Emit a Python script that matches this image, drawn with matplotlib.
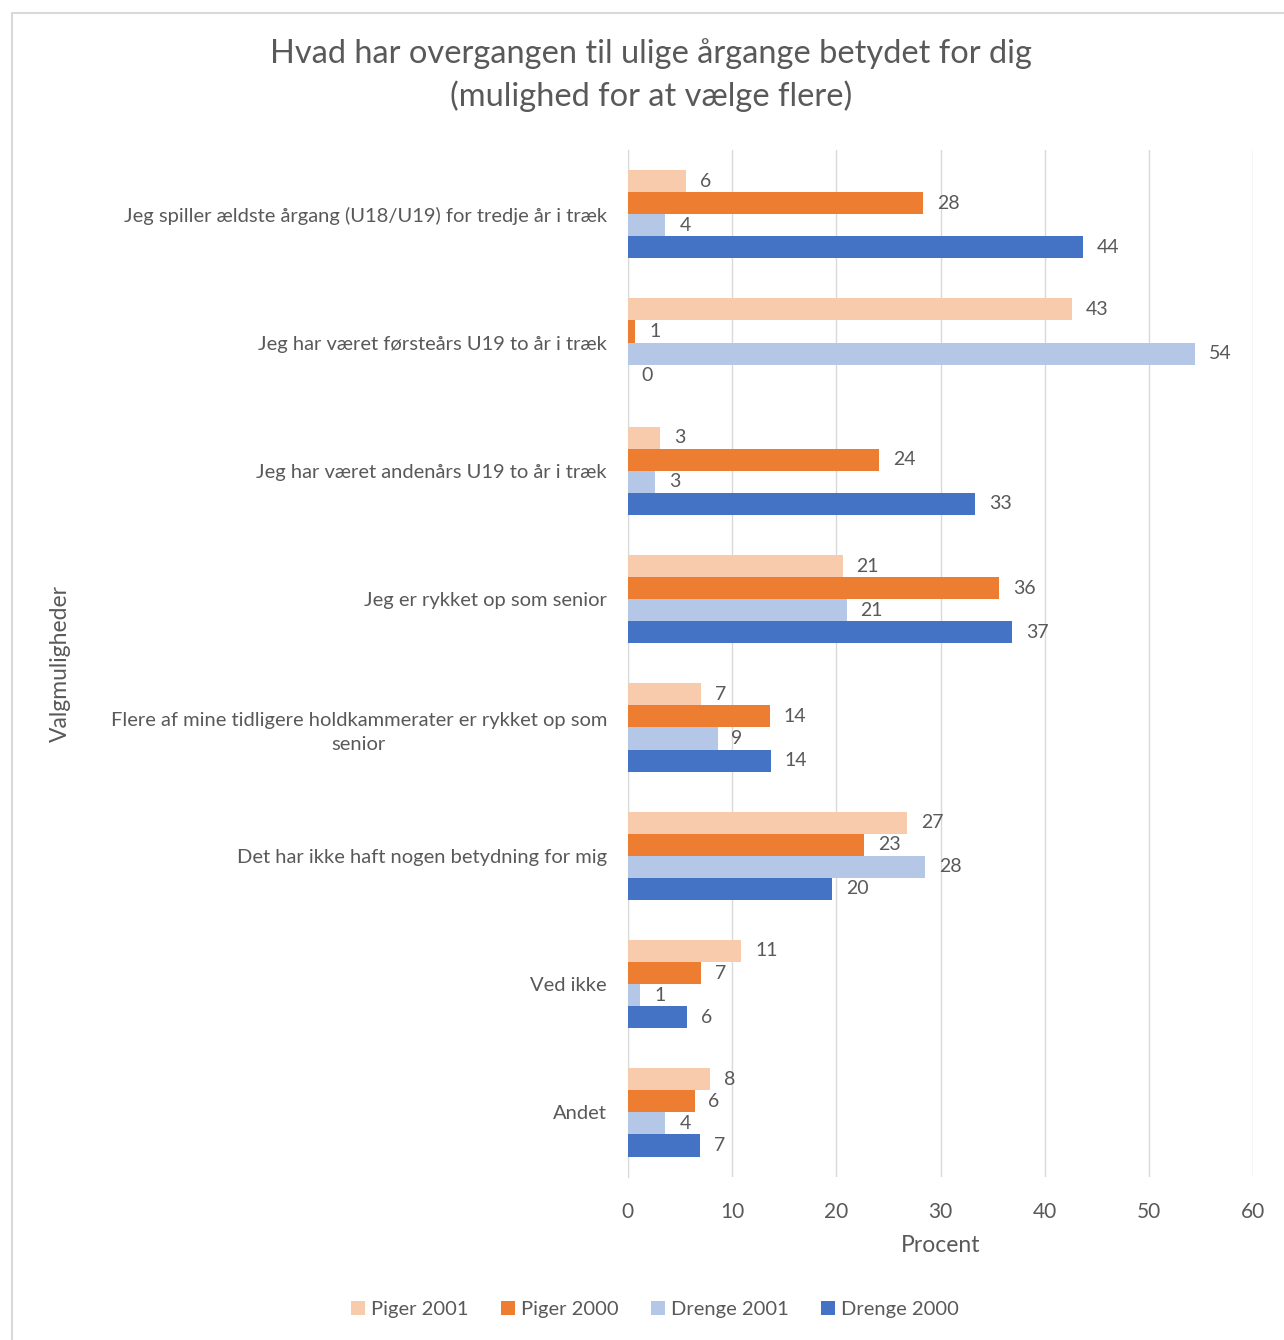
import numpy as np
import matplotlib.pyplot as plt
from matplotlib.patches import Rectangle

plt.rcParams['font.family'] = ['Lato', 'DejaVu Sans']

categories = [
    "Jeg spiller ældste årgang (U18/U19) for tredje år i træk",
    "Jeg har været førsteårs U19 to år i træk",
    "Jeg har været andenårs U19 to år i træk",
    "Jeg er rykket op som senior",
    "Flere af mine tidligere holdkammerater er rykket op som\nsenior",
    "Det har ikke haft nogen betydning for mig",
    "Ved ikke",
    "Andet",
]
series_names = ["Piger 2001", "Piger 2000", "Drenge 2001", "Drenge 2000"]
piger_2001 = [5.6, 42.6, 3.1, 20.6, 7.0, 26.8, 10.9, 7.9]
piger_2000 = [28.3, 0.7, 24.1, 35.6, 13.6, 22.7, 7.0, 6.4]
drenge_2001 = [3.6, 54.4, 2.6, 21.0, 8.6, 28.5, 1.2, 3.6]
drenge_2000 = [43.7, 0.0, 33.3, 36.9, 13.7, 19.6, 5.7, 6.9]
colors = ["#F8CBAD", "#ED7D31", "#B4C7E7", "#4472C4"]

txt = "#595959"
fig = plt.figure(figsize=(12.84, 13.4), dpi=100)
ax = fig.add_axes([0.489, 0.122, 0.487, 0.766])

y = np.arange(len(categories))
h = 0.172
for i, (vals, name, c) in enumerate(zip([piger_2001, piger_2000, drenge_2001, drenge_2000], series_names, colors)):
    bars = ax.barh(y + (i - 1.5) * h, vals, height=h, color=c, label=name, zorder=3)
    ax.bar_label(bars, fmt="%.0f", padding=10, color=txt, fontsize=14)

ax.set_ylim(len(categories) - 0.5, -0.5)
ax.set_xlim(0, 60)
ax.set_xticks(range(0, 61, 10))
ax.set_yticks(y)
ax.set_yticklabels(categories, fontsize=14.5, color=txt)
for lbl in ax.get_yticklabels():
    lbl.set_multialignment('center')
    lbl.set_linespacing(1.5)
ax.tick_params(axis='x', length=0, labelsize=15, labelcolor=txt, pad=18)
ax.tick_params(axis='y', length=0, pad=15)
ax.grid(axis='x', color="#D9D9D9", linewidth=1, zorder=0)
for s in ['top', 'right', 'bottom']:
    ax.spines[s].set_visible(False)
ax.spines['left'].set_color("#D9D9D9")
ax.set_xlabel("Procent", fontsize=16.5, color=txt, labelpad=10)

fig.text(0.047, 0.505, "Valgmuligheder", rotation=90, ha='center', va='center', fontsize=16.5, color=txt)
fig.text(0.507, 0.944, "Hvad har overgangen til ulige årgange betydet for dig\n(mulighed for at vælge flere)",
         ha='center', va='center', fontsize=23.5, color=txt, linespacing=1.48)

fig.legend(loc='center', bbox_to_anchor=(0.51, 0.023), ncol=4, frameon=False, fontsize=14.5,
           labelcolor=txt, handlelength=0.7, handleheight=0.7, handletextpad=0.3, columnspacing=1.6)

fig.patches.append(Rectangle((0.009, -0.01), 1.2, 1.0, transform=fig.transFigure,
                             fill=False, edgecolor="#D9D9D9", linewidth=1.5))

fig.savefig("out.png", dpi=100)
